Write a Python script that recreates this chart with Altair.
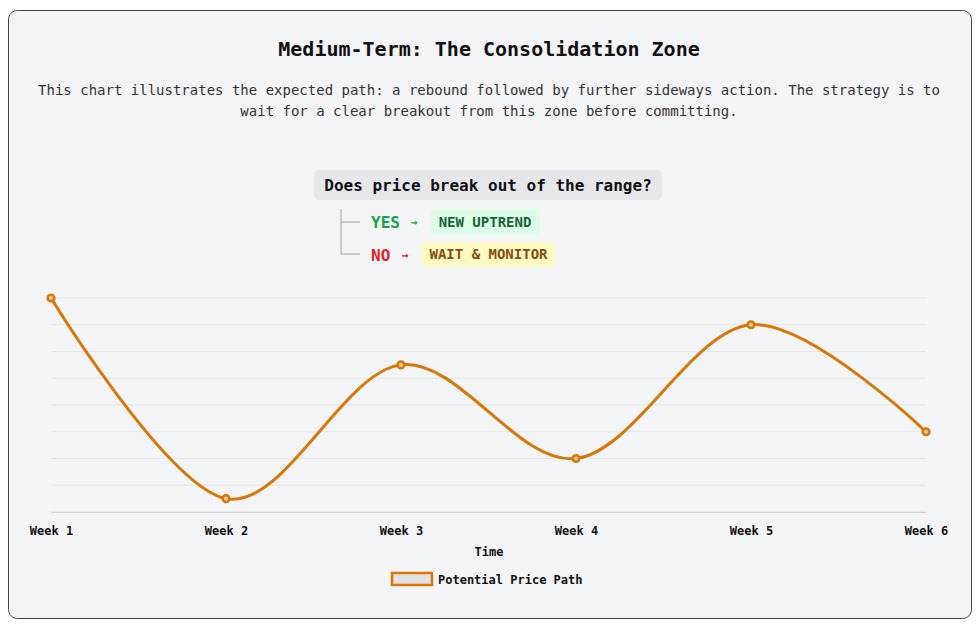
import altair as alt
import pandas as pd

# ---- data ----
weeks = ["Week 1", "Week 2", "Week 3", "Week 4", "Week 5", "Week 6"]
price = [8, 0.5, 5.5, 2, 7, 3]
grid_values = [0, 1, 2, 3, 4, 5, 6, 7, 8]
series_name = "Potential Price Path"

title_text = "Medium-Term: The Consolidation Zone"
subtitle_lines = [
    "This chart illustrates the expected path: a rebound followed by further sideways action. The strategy is to",
    "wait for a clear breakout from this zone before committing.",
]
question = "Does price break out of the range?"
yes_label, yes_result = "YES", "NEW UPTREND"
no_label, no_result = "NO", "WAIT & MONITOR"

FONT = "DejaVu Sans Mono"
ORANGE = "#d97706"

df = pd.DataFrame({"week": weeks, "price": price, "series": series_name})
gdf = pd.DataFrame({"g": grid_values})
one = pd.DataFrame({"k": [0]})

y_scale = alt.Scale(domain=[0, 8], nice=False, zero=False)

x_enc = alt.X(
    "week:O",
    sort=weeks,
    scale=alt.Scale(type="point", padding=0),
    axis=alt.Axis(
        title="Time", labelAngle=0, labelFont=FONT, labelFontSize=12, labelFontWeight="bold",
        labelColor="#111", ticks=False, labelPadding=13, domainColor="#d1d5db", grid=False,
        titleFont=FONT, titleFontSize=12, titleFontWeight="bold", titleColor="#111", titlePadding=10,
        zindex=1,
    ),
)
y_enc = alt.Y(
    "price:Q",
    scale=y_scale,
    axis=alt.Axis(
        title=None, labels=False, values=grid_values, grid=False,
        tickColor="#e0e2e5", tickSize=7, domainColor="#e0e2e5", zindex=1,
    ),
)

card = alt.Chart(one).mark_rect(
    fill="#f3f4f6", stroke="#444", strokeWidth=1, cornerRadius=9
).encode(x=alt.value(-42.5), x2=alt.value(920.5), y=alt.value(-287.5), y2=alt.value(320.5))

grid = alt.Chart(gdf).mark_rule(color="#e3e5e8", strokeWidth=1).encode(
    y=alt.Y("g:Q", scale=y_scale, axis=None), x=alt.value(0), x2=alt.value(875)
)

def text_layer(txt, x, y, size, color="#111", weight="normal", align="center"):
    return alt.Chart(pd.DataFrame({"t": [txt]})).mark_text(
        font=FONT, fontSize=size, fontWeight=weight, color=color, align=align, baseline="middle"
    ).encode(text="t:N", x=alt.value(x), y=alt.value(y))

def box(x, x2, y, y2, fill):
    return alt.Chart(one).mark_rect(fill=fill, cornerRadius=5).encode(
        x=alt.value(x), x2=alt.value(x2), y=alt.value(y), y2=alt.value(y2)
    )

def seg(x, x2, y, y2):
    return alt.Chart(one).mark_rule(color="#9ca3af", strokeWidth=1).encode(
        x=alt.value(x), x2=alt.value(x2), y=alt.value(y), y2=alt.value(y2)
    )

layers = [
    card,
    grid,
    text_layer(title_text, 438, -248, 20, "#111", "bold"),
    text_layer(subtitle_lines[0], 438, -207, 14, "#333"),
    text_layer(subtitle_lines[1], 438, -186, 14, "#333"),
    box(263, 611, -128, -98, "#e5e7eb"),
    text_layer(question, 437, -112, 16, "#111", "bold"),
    seg(290, 290, -89, -44),
    seg(290, 309, -76, -76),
    seg(290, 309, -44, -44),
    text_layer(yes_label, 320, -75, 16, "#16a34a", "bold", "left"),
    text_layer("→", 360, -75, 11, "#16a34a", "bold", "left"),
    box(379, 489, -89, -63, "#dcfce7"),
    text_layer(yes_result, 434, -75, 14, "#166534", "bold"),
    text_layer(no_label, 320, -42, 16, "#dc2626", "bold", "left"),
    text_layer("→", 351, -42, 11, "#dc2626", "bold", "left"),
    box(370, 505, -56, -31, "#fef9c3"),
    text_layer(no_result, 437.5, -43, 14, "#854d0e", "bold"),
]

line = alt.Chart(df).mark_line(color=ORANGE, strokeWidth=3, interpolate="cardinal").encode(
    x=x_enc, y=y_enc
)
pts = alt.Chart(df).mark_point(
    filled=True, fill="#eec9a2", stroke=ORANGE, strokeWidth=2.5, size=45, opacity=1, fillOpacity=1
).encode(x=x_enc, y=y_enc)

legend_box = alt.Chart(one).mark_rect(fill="#e0e0e0", stroke=ORANGE, strokeWidth=2.5).encode(
    x=alt.value(341), x2=alt.value(381), y=alt.value(275), y2=alt.value(287)
)
legend_text = text_layer(series_name, 387, 282, 12, "#111", "bold", "left")

chart = alt.layer(*layers, line, pts, legend_box, legend_text).properties(
    width=875,
    height=214,
    autosize=alt.AutoSizeParams(type="none"),
    padding={"left": 43, "top": 290, "right": 46, "bottom": 107},
    background="white",
).configure_view(stroke=None).configure(font=FONT)

chart.save("out.html", embed_options={"renderer": "svg", "actions": False})
